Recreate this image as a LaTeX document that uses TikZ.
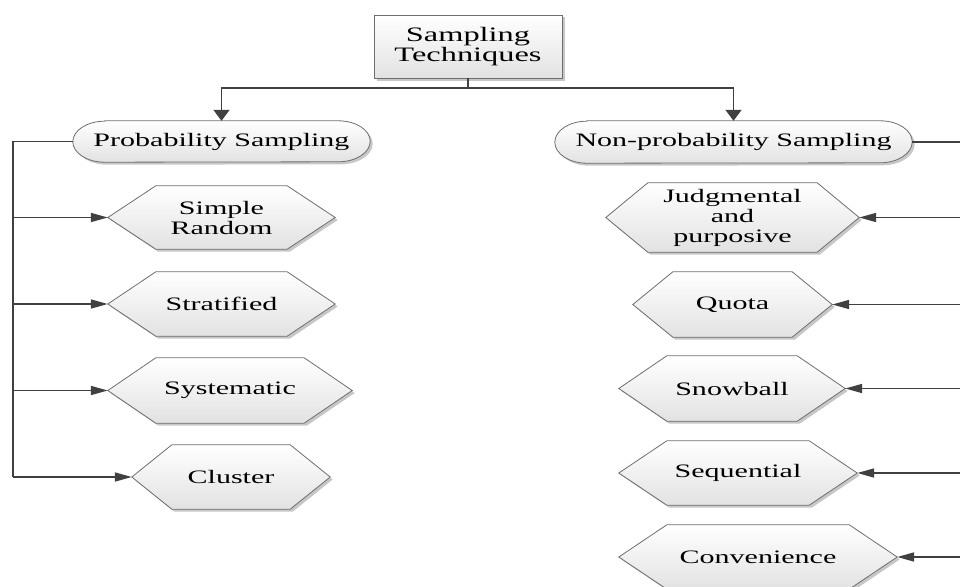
\documentclass[tikz,border=0pt]{standalone}
\usepackage{fontspec}
\setmainfont{Liberation Serif}[FakeStretch=1.58]
\usetikzlibrary{shadows,arrows.meta}
\pgfdeclarelayer{bg}
\pgfsetlayers{bg,main}
\definecolor{linec}{HTML}{404040}
\definecolor{edgec}{HTML}{6E6E6E}
\definecolor{fillb}{HTML}{E2E2E2}
\newcommand\drawhex[2]{\begin{pgfonlayer}{bg}\path[boxfill] (#1.west) -- ([xshift=#2pt]#1.north west) -- ([xshift=-#2pt]#1.north east) -- (#1.east) -- ([xshift=-#2pt]#1.south east) -- ([xshift=#2pt]#1.south west) -- cycle;\end{pgfonlayer}}
\newcommand\drawpill[3]{\begin{pgfonlayer}{bg}\path[boxfill] ([xshift=#2pt]#1.north west) -- ([xshift=-#2pt]#1.north east) arc[start angle=90,end angle=-90,x radius=#2pt,y radius=#3pt] -- ([xshift=#2pt]#1.south west) arc[start angle=270,end angle=90,x radius=#2pt,y radius=#3pt] -- cycle;\end{pgfonlayer}}
\begin{document}
\begin{tikzpicture}[x=1pt,y=-1pt,
  boxfill/.style={draw=edgec,line width=0.8pt,top color=white,bottom color=fillb,
    drop shadow={shadow xshift=2.5pt,shadow yshift=-2.5pt,fill=black!22,opacity=1}},
  lbl/.style={font=\fontsize{19}{20}\selectfont,align=center,inner sep=0pt},
  topbox/.style={boxfill,rectangle,inner sep=0pt,align=center,font=\fontsize{20.5}{20}\selectfont},
  hextext/.style={lbl},
  conn/.style={draw=linec,line width=1.7pt},
  harrow/.style={conn,-{Triangle[length=17pt,width=9pt]}},
  varrow/.style={conn,-{Triangle[length=11pt,width=16pt]}},
]
\useasboundingbox (0,0) rectangle (960,586);
\clip (0,0) rectangle (960,586);

% top
\node[topbox,minimum width=188pt,minimum height=63pt] (top) at (468,46.5) {Sampling\\Techniques};

% categories
\node[lbl,minimum width=297pt,minimum height=41pt] (ps) at (221.5,141.5) {Probability Sampling};
\node[lbl,minimum width=357pt,minimum height=42pt] (nps) at (733.5,142) {Non-probability Sampling};
\drawpill{ps}{32}{20.5}
\drawpill{nps}{32}{21}

% left hexagons
\node[hextext,minimum width=227pt,minimum height=63pt] (sr) at (221.5,217.5) {Simple\\Random};
\node[hextext,minimum width=227pt,minimum height=64pt] (st) at (221.5,304) {Stratified};
\node[hextext,minimum width=244pt,minimum height=65pt] (sy) at (230,390.5) {Systematic};
\node[hextext,minimum width=198pt,minimum height=64pt] (cl) at (231,477) {Cluster};
\drawhex{sr}{48}
\drawhex{st}{48}
\drawhex{sy}{48}
\drawhex{cl}{40}

% right hexagons
\node[hextext,minimum width=253pt,minimum height=69pt] (jp) at (732.5,217.5) {Judgmental\\and\\purposive};
\node[hextext,minimum width=199pt,minimum height=65pt] (qu) at (732.5,304.5) {Quota};
\node[hextext,minimum width=226pt,minimum height=65pt] (sn) at (732,388.5) {Snowball};
\node[hextext,minimum width=238pt,minimum height=64pt] (se) at (738,473) {Sequential};
\node[hextext,minimum width=278pt,minimum height=64pt] (co) at (758,557) {Convenience};
\drawhex{jp}{42}
\drawhex{qu}{40}
\drawhex{sn}{48}
\drawhex{se}{48}
\drawhex{co}{48}

% top connectors
\coordinate (jn) at (468,88);
\draw[conn] (top.south) -- (jn);
\draw[varrow] (jn) -| (ps.north);
\draw[varrow] (jn) -| (nps.north);

% left bus
\coordinate (lbt) at (13,141.5);
\coordinate (lbb) at (13,477);
\draw[conn] (ps.west) -- (lbt) -- (lbb);
\draw[harrow] (sr.west -| lbb) -- (sr.west);
\draw[harrow] (st.west -| lbb) -- (st.west);
\draw[harrow] (sy.west -| lbb) -- (sy.west);
\draw[harrow] (lbb) -- (cl.west);

% right bus
\coordinate (rb) at (960,142);
\draw[conn] (nps.east) -- (rb);
\draw[harrow] (jp.east -| rb) -- (jp.east);
\draw[harrow] (qu.east -| rb) -- (qu.east);
\draw[harrow] (sn.east -| rb) -- (sn.east);
\draw[harrow] (se.east -| rb) -- (se.east);
\draw[harrow] (co.east -| rb) -- (co.east);
\end{tikzpicture}
\end{document}
